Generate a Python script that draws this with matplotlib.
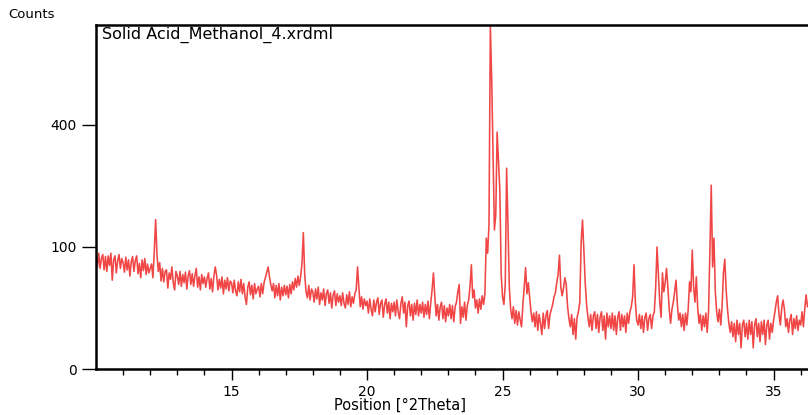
import numpy as np
import matplotlib
matplotlib.use('Agg')
import matplotlib.pyplot as plt

# scan: start angle and step (deg 2theta)
start_2theta = 10.0
step_2theta = 0.05

# counts, one row per degree (20 steps)
counts = [
    84, 70, 90, 68, 82, 88, 66, 85, 64, 86, 72, 90, 53, 80, 86, 62, 79, 88, 68, 82,   # 10
    76, 63, 84, 66, 80, 58, 77, 85, 64, 79, 86, 61, 75, 56, 80, 65, 82, 60, 74, 62,   # 11
    68, 74, 56, 92, 150, 88, 64, 76, 52, 68, 51, 64, 66, 44, 62, 54, 70, 50, 42, 64,  # 12
    58, 48, 64, 46, 60, 50, 63, 43, 58, 65, 48, 61, 46, 58, 68, 45, 57, 42, 60, 49,   # 13
    57, 45, 55, 62, 43, 55, 40, 58, 70, 59, 42, 54, 44, 57, 38, 53, 43, 56, 41, 52,   # 14
    50, 39, 53, 41, 36, 51, 40, 54, 38, 49, 35, 28, 45, 51, 37, 47, 33, 49, 38, 43,   # 15
    46, 35, 49, 38, 50, 56, 63, 70, 57, 48, 41, 49, 34, 47, 36, 49, 32, 45, 36, 47,   # 16
    37, 46, 34, 48, 38, 51, 42, 55, 45, 58, 47, 57, 75, 125, 60, 40, 34, 47, 32, 43,  # 17
    40, 30, 43, 33, 45, 28, 39, 32, 43, 27, 38, 42, 29, 39, 25, 37, 41, 27, 38, 30,   # 18
    36, 27, 39, 29, 25, 37, 28, 40, 26, 35, 29, 38, 42, 70, 44, 26, 35, 24, 33, 27,   # 19
    31, 21, 33, 24, 19, 32, 22, 30, 34, 20, 29, 32, 18, 28, 33, 21, 30, 17, 29, 22,   # 20
    30, 19, 32, 22, 17, 29, 35, 21, 30, 12, 27, 31, 19, 28, 16, 29, 20, 32, 19, 28,   # 21
    21, 30, 18, 28, 20, 31, 17, 29, 42, 62, 36, 19, 28, 16, 26, 30, 17, 27, 15, 25,   # 22
    19, 28, 17, 27, 15, 26, 30, 40, 48, 14, 26, 18, 30, 16, 27, 32, 46, 73, 34, 42,   # 23
    25, 32, 21, 33, 24, 36, 28, 38, 115, 90, 140, 790, 560, 300, 130, 160, 377, 290, 215, 60,  # 24
    35, 28, 48, 271, 140, 45, 24, 17, 26, 14, 23, 13, 22, 16, 12, 28, 45, 69, 38, 50,  # 25
    34, 22, 15, 21, 12, 22, 10, 20, 14, 8, 21, 11, 19, 23, 11, 20, 24, 28, 35, 39,    # 26
    50, 60, 87, 45, 36, 44, 56, 48, 26, 17, 12, 20, 8, 17, 6, 18, 22, 30, 108, 149,  # 27
    95, 50, 28, 18, 12, 20, 10, 19, 22, 11, 20, 9, 18, 22, 10, 19, 6, 21, 12, 19,     # 28
    11, 21, 10, 19, 8, 18, 22, 10, 20, 12, 19, 9, 21, 14, 22, 26, 35, 73, 30, 16,     # 29
    13, 20, 11, 19, 9, 18, 21, 10, 17, 20, 11, 19, 22, 45, 100, 59, 30, 18, 62, 40,   # 30
    50, 68, 45, 24, 14, 24, 30, 40, 53, 28, 16, 21, 12, 20, 10, 21, 13, 24, 51, 40,   # 31
    95, 45, 30, 57, 25, 14, 20, 10, 19, 12, 21, 9, 22, 92, 227, 70, 115, 40, 22, 15,  # 32
    24, 13, 26, 62, 81, 42, 24, 14, 9, 15, 7, 14, 5, 16, 8, 14, 3, 13, 16, 7,         # 33
    14, 6, 16, 8, 15, 3, 13, 17, 7, 14, 5, 15, 8, 16, 4, 13, 16, 6, 14, 9,            # 34
    16, 22, 30, 36, 20, 13, 25, 32, 24, 12, 17, 9, 16, 20, 8, 17, 11, 19, 10, 16,     # 35
    13, 22, 12, 24, 37, 26, 30,                                                       # 36
]
two_theta = np.round(start_2theta + step_2theta * np.arange(len(counts)), 2)

y_ticks = [0, 100, 400]
x_ticks = [15, 20, 25, 30, 35]

fig = plt.figure(figsize=(8.08, 4.15), dpi=100)
ax = fig.add_axes([96/808, 1 - 369/415, 1 - 96/808, (369 - 25)/415])

ax.plot(two_theta, counts, color='#f04646', lw=1.15)

# square-root intensity axis
ax.set_yscale('function', functions=(lambda v: np.sqrt(np.clip(v, 0, None)), np.square))
ax.set_ylim(0, 795)
ax.set_xlim(10.0, 36.27)
ax.set_yticks(y_ticks)
ax.set_yticklabels([str(t) for t in y_ticks])
ax.set_xticks(x_ticks)
ax.set_xticks(np.arange(11, 37, 1), minor=True)
ax.yaxis.set_minor_locator(matplotlib.ticker.NullLocator())

ax.tick_params(axis='both', which='major', direction='out', length=8, width=1,
               labelsize=10, colors='black')
ax.tick_params(axis='x', which='minor', direction='out', length=4, width=1)
ax.tick_params(axis='y', which='major', length=10, pad=4)

for s in ['left', 'top', 'bottom']:
    ax.spines[s].set_linewidth(1.8)
ax.spines['right'].set_visible(False)

ax.text(0.009, 0.994, 'Solid Acid_Methanol_4.xrdml', transform=ax.transAxes,
        ha='left', va='top', fontsize=11.5)

ax.set_xlabel('Position [°2Theta]', fontsize=10.5, labelpad=1)
ax.xaxis.set_label_coords((400 - 96)/(808 - 96), -0.085)
fig.text(8/808, 1 - 15/415, 'Counts', ha='left', va='center', fontsize=9.5)

fig.savefig('out.png', dpi=100)
